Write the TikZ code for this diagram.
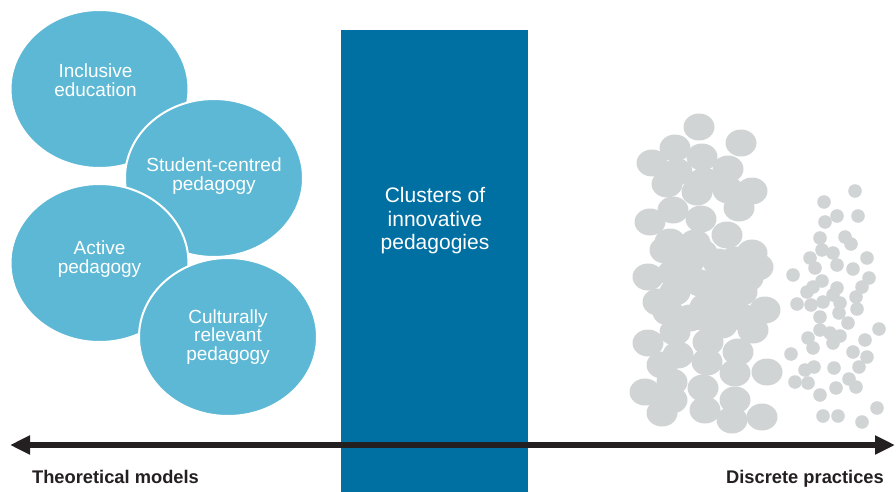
\documentclass[tikz,border=0pt]{standalone}
\usepackage{fontspec}
\setmainfont{Liberation Sans}
\usepackage{tikz}
\usetikzlibrary{shapes.geometric,arrows.meta}
\definecolor{skyblue}{rgb}{0.36, 0.72, 0.83}
\definecolor{deepblue}{rgb}{0.0, 0.44, 0.64}
\definecolor{dotgray}{rgb}{0.82, 0.83, 0.83}
\definecolor{inkblack}{rgb}{0.14, 0.12, 0.13}

\begin{document}
\begin{tikzpicture}[x=1pt,y=-1pt,
	bubble/.style={ellipse,draw=white,line width=2pt,fill=skyblue,minimum width=178pt,minimum height=158pt},
	bubbletext/.style={align=center,text=white,font=\fontsize{19pt}{18.5pt}\selectfont},
	blob/.style={fill=dotgray},
	axislabel/.style={anchor=base,text=inkblack,font=\fontsize{18.3pt}{22pt}\selectfont\bfseries}]
	\useasboundingbox (0,0) rectangle (896,492);
	
	% theoretical models
	\node[bubble,label={[bubbletext,xshift=-4pt,yshift=9pt]center:{Inclusive\\education}}] (A) at (99.5,89) {};
	\node[bubble,label={[bubbletext,yshift=2pt]center:{Student-centred\\pedagogy}}] (B) at (214,178) {};
	\node[bubble,label={[bubbletext,yshift=4pt]center:{Active\\pedagogy}}] (C) at (99.5,263) {};
	\node[bubble,label={[bubbletext]center:{Culturally\\relevant\\pedagogy}}] (D) at (228,337) {};
	
	% clusters
	\node[fill=deepblue,minimum width=187pt,minimum height=462pt,inner sep=0pt] (R) at (434.5,261) {};
	\node[align=center,text=white,font=\fontsize{21pt}{23.5pt}\selectfont] (T) at (435,221) {Clusters of\\innovative\\pedagogies};
	
	% discrete practices
	\foreach \x/\y in {699/127,741/143,675/148,702/157,652/163,677/172,728/169,704/181,667/184,697/192,728/190,752/191,739/208,673/210,701/219,650/222,
		727/235,670/242,665/250,695/243,702/253,752/253,758/267,735/260,648/277,673/273,675/292,700/283,722/280,742/292,705/307,725/303,765/310,658/302,
		718/262,688/263,748/278,690/318,722/325,715/296,
		668/312,702/317,742/317,753/330,675/332,648/343,708/342,738/352,678/355,662/365,707/362,735/373,767/372,672/382,703/388,645/392,672/400,735/400,705/410,662/413,732/420,762/417}
		\fill[blob] (\x,\y) ellipse (15.5 and 13.5);
	\foreach \x/\y in {855/191,824/202,837/216,858/216,825/222,820/238,845/237,851/244,822/250,833/253,810/258,867/258,815/268,837/265,853/269,793/275,822/281,869/278,837/288,813/287,807/292,862/287,856/297,833/295,
		797/304,811/305,823/302,840/303,857/309,820/317,839/313,848/323,879/329,808/338,820/330,830/333,840/336,813/348,833/343,865/340,791/354,853/352,867/357,805/370,814/367,834/368,859/367,795/382,808/383,849/379,856/387,836/388,820/395,877/408,823/416,838/416,862/422}
		\fill[blob] (\x,\y) circle (6.8);
	
	\coordinate (L) at (10,445);
	\coordinate (P) at (895,445);
	\draw[inkblack,line width=6pt,{Triangle[length=20pt,width=18pt]}-{Triangle[length=20pt,width=18pt]}] (L) -- (P);
	
	\node[axislabel] (M) at (115.5,483) {Theoretical models};
	\node[axislabel] (N) at (805,483) {Discrete practices};
\end{tikzpicture}
\end{document}
